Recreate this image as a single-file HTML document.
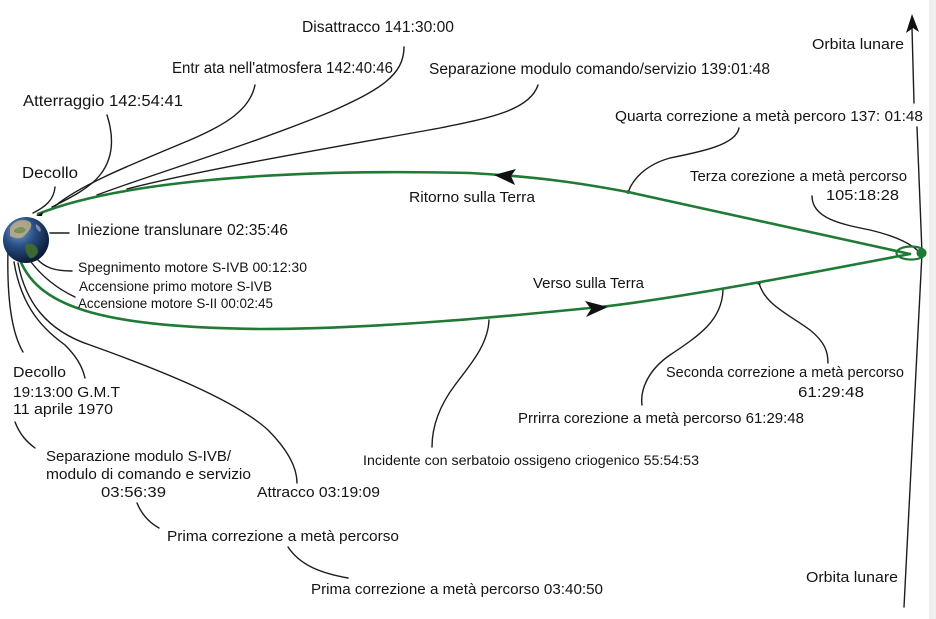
<!DOCTYPE html>
<html>
<head>
<meta charset="utf-8">
<style>
  html,body{margin:0;padding:0;background:#fff;}
  body{width:936px;height:619px;overflow:hidden;}
  svg{display:block;}
  text{font-family:"Liberation Sans",sans-serif;fill:#141414;}
</style>
</head>
<body>
<svg width="936" height="619" viewBox="0 0 936 619" xmlns="http://www.w3.org/2000/svg">
  <defs>
    <radialGradient id="earth" cx="0.35" cy="0.3" r="0.75">
      <stop offset="0" stop-color="#7d9cc8"/>
      <stop offset="0.45" stop-color="#284f86"/>
      <stop offset="1" stop-color="#08152d"/>
    </radialGradient>
  </defs>
  <rect x="0" y="0" width="936" height="619" fill="#ffffff"/>
  <rect x="929" y="0" width="7" height="619" fill="#efefef"/>

  <!-- black connectors -->
  <g fill="none" stroke="#1c1c1c" stroke-width="1.4" stroke-linecap="round">
    <path d="M404,47 C404,75 380,90 330,112 C250,145 150,175 97,195"/>
    <path d="M255,85 C250,110 225,125 190,140 C130,165 80,185 55,206"/>
    <path d="M107,115 C115,140 112,160 100,175 C90,188 70,198 52,207"/>
    <path d="M538,85 C530,110 490,118 440,128 C330,148 200,170 127,189"/>
    <path d="M55,187 C54,200 45,207 33,213"/>
    <path d="M50,233 L69,233"/>
    <path d="M36,258 C45,268 55,271 72,271"/>
    <path d="M31,262 C45,280 60,290 75,297"/>
    <path d="M8,250 C7,290 10,330 23,352"/>
    <path d="M14,262 C22,310 45,330 65,345 C75,355 82,365 85,378"/>
    <path d="M18,263 C25,300 45,330 90,345 C160,370 235,400 268,430 C288,450 297,468 297,483"/>
    <path d="M15,422 C20,435 27,442 35,448"/>
    <path d="M137,503 C142,515 150,523 159,528"/>
    <path d="M288,547 C300,565 320,573 348,578"/>
    <path d="M739,128 C736,145 700,152 670,158 C645,165 632,180 628,193"/>
    <path d="M812,196 C812,218 840,224 870,230 C895,236 912,244 920,253"/>
    <path d="M489,320 C488,345 470,365 455,385 C440,405 432,425 432,447"/>
    <path d="M723,290 C722,320 700,335 670,355 C648,370 640,390 642,405"/>
    <path d="M759,283 C765,305 790,315 810,330 C825,342 828,352 828,363"/>
    <!-- lunar orbit line -->
    <path d="M912,28 L914,103"/>
    <path d="M917,127 L922,253 L904,607"/>
  </g>
  <polygon points="912,14 919,32 913,28 906,33" fill="#111"/>
  <circle cx="628" cy="192" r="1.8" fill="#111"/>
  <circle cx="759" cy="283" r="1.8" fill="#111"/>

  <!-- green trajectories -->
  <g fill="none" stroke="#1f7a35" stroke-width="2.6" stroke-linecap="round">
    <path d="M38,214 C110,185 260,168 470,173 C540,177 580,183 628,192 L910,254"/>
    <path d="M20,260 C40,310 110,327 260,329 C380,329 520,315 600,307 C680,298 800,275 910,254"/>
  </g>
  <ellipse cx="911" cy="253" rx="14.5" ry="6.5" fill="none" stroke="#1f7a35" stroke-width="2.2"/>
  <circle cx="921" cy="253" r="4.5" fill="#1f7a35"/>

  <!-- arrowheads on paths -->
  <polygon points="494,175 516,169 511,176 515,185" fill="#111"/>
  <polygon points="608,307 585,301 591,309 586,317" fill="#111"/>

  <!-- Earth -->
  <circle cx="26" cy="240" r="23" fill="url(#earth)"/>
  <path d="M10,228 C14,220 24,218 30,222 C34,226 28,232 24,236 C20,240 14,238 10,236 Z" fill="#c2b384" opacity="0.8"/>
  <path d="M14,230 C18,226 24,226 26,230 C24,234 18,234 14,232 Z" fill="#6f8a4a" opacity="0.8"/>
  <path d="M26,244 C32,242 38,246 38,252 C36,258 30,260 28,256 C26,252 24,248 26,244 Z" fill="#3f6e2d" opacity="0.9"/>
  <path d="M36,224 C40,226 42,230 40,232 C37,230 35,227 36,224 Z" fill="#d8d8d8" opacity="0.5"/>
  <path d="M36,216 L43,212 L42,216 Z" fill="#111"/>

  <!-- labels -->
  <g font-size="15.5">
    <text x="302" y="32" textLength="152" lengthAdjust="spacingAndGlyphs">Disattracco 141:30:00</text>
    <text x="172" y="73" textLength="221" lengthAdjust="spacingAndGlyphs">Entr ata nell'atmosfera 142:40:46</text>
    <text x="23" y="106" textLength="160" lengthAdjust="spacingAndGlyphs">Atterraggio 142:54:41</text>
    <text x="22" y="178" textLength="56" lengthAdjust="spacingAndGlyphs">Decollo</text>
    <text x="77" y="235" textLength="211" lengthAdjust="spacingAndGlyphs">Iniezione translunare 02:35:46</text>
    <text x="429" y="74" textLength="341" lengthAdjust="spacingAndGlyphs">Separazione modulo comando/servizio 139:01:48</text>
  </g>
  <g font-size="14">
    <text x="78" y="272" textLength="229" lengthAdjust="spacingAndGlyphs">Spegnimento motore S-IVB 00:12:30</text>
    <text x="79" y="291" textLength="193" lengthAdjust="spacingAndGlyphs">Accensione primo motore S-IVB</text>
    <text x="78" y="308" textLength="195" lengthAdjust="spacingAndGlyphs">Accensione motore S-II 00:02:45</text>
    <text x="363" y="465" textLength="336" lengthAdjust="spacingAndGlyphs">Incidente con serbatoio ossigeno criogenico 55:54:53</text>
  </g>
  <g font-size="15">
    <text x="409" y="202" textLength="126" lengthAdjust="spacingAndGlyphs">Ritorno sulla Terra</text>
    <text x="812" y="49" textLength="92" lengthAdjust="spacingAndGlyphs">Orbita lunare</text>
    <text x="615" y="121" textLength="308" lengthAdjust="spacingAndGlyphs">Quarta correzione a metà percoro 137: 01:48</text>
    <text x="690" y="181" textLength="217" lengthAdjust="spacingAndGlyphs">Terza corezione a metà percorso</text>
    <text x="826" y="200" textLength="73" lengthAdjust="spacingAndGlyphs">105:18:28</text>
    <text x="533" y="288" textLength="111" lengthAdjust="spacingAndGlyphs">Verso sulla Terra</text>
    <text x="13" y="377" textLength="53" lengthAdjust="spacingAndGlyphs">Decollo</text>
    <text x="13" y="397" textLength="107" lengthAdjust="spacingAndGlyphs">19:13:00 G.M.T</text>
    <text x="13" y="414" textLength="100" lengthAdjust="spacingAndGlyphs">11 aprile 1970</text>
    <text x="46" y="461" textLength="185" lengthAdjust="spacingAndGlyphs">Separazione modulo S-IVB/</text>
    <text x="46" y="479" textLength="205" lengthAdjust="spacingAndGlyphs">modulo di comando e servizio</text>
    <text x="101" y="497" textLength="65" lengthAdjust="spacingAndGlyphs">03:56:39</text>
    <text x="257" y="497" textLength="123" lengthAdjust="spacingAndGlyphs">Attracco 03:19:09</text>
    <text x="167" y="541" textLength="232" lengthAdjust="spacingAndGlyphs">Prima correzione a metà percorso</text>
    <text x="311" y="594" textLength="292" lengthAdjust="spacingAndGlyphs">Prima correzione a metà percorso 03:40:50</text>
    <text x="666" y="377" textLength="238" lengthAdjust="spacingAndGlyphs">Seconda correzione a metà percorso</text>
    <text x="798" y="397" textLength="66" lengthAdjust="spacingAndGlyphs">61:29:48</text>
    <text x="518" y="423" textLength="286" lengthAdjust="spacingAndGlyphs">Prrirra corezione a metà percorso 61:29:48</text>
    <text x="806" y="582" textLength="92" lengthAdjust="spacingAndGlyphs">Orbita lunare</text>
  </g>
</svg>
</body>
</html>
